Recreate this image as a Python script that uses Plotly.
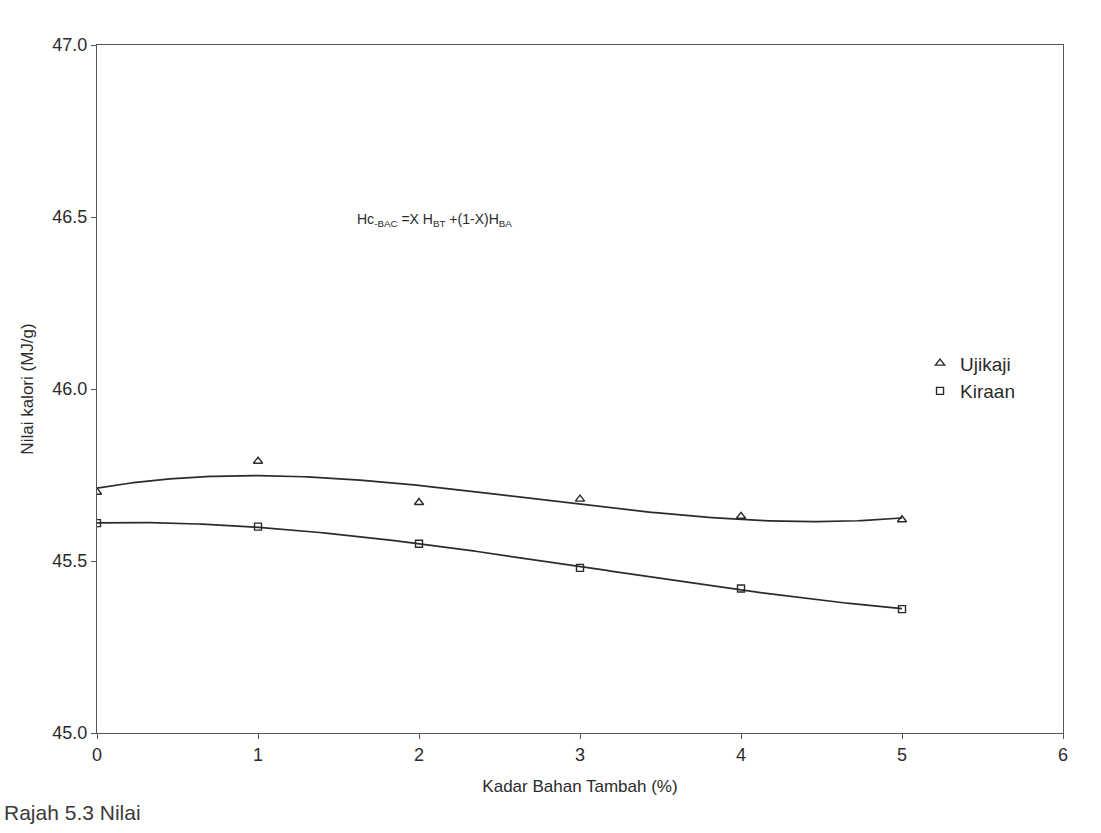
import numpy as np
import plotly.graph_objects as go

# Data
kadar = [0, 1, 2, 3, 4, 5]
ujikaji = [45.70, 45.79, 45.67, 45.68, 45.63, 45.62]
kiraan = [45.61, 45.60, 45.55, 45.48, 45.42, 45.36]

x_ticks = [0, 1, 2, 3, 4, 5, 6]
y_ticks = [45.0, 45.5, 46.0, 46.5, 47.0]

FONT = "Liberation Sans, Arial, sans-serif"
INK = "#2b2b2b"

# polynomial (order 3) trendlines, like the spreadsheet fit
xs = np.linspace(min(kadar), max(kadar), 200)
fit_u = np.polyval(np.polyfit(kadar, ujikaji, 3), xs)
fit_k = np.polyval(np.polyfit(kadar, kiraan, 3), xs)

fig = go.Figure()
fig.add_trace(go.Scatter(x=xs, y=fit_u, mode="lines", line=dict(color=INK, width=1.7),
                         showlegend=False, hoverinfo="skip"))
fig.add_trace(go.Scatter(x=xs, y=fit_k, mode="lines", line=dict(color=INK, width=1.7),
                         showlegend=False, hoverinfo="skip"))
fig.add_trace(go.Scatter(x=kadar, y=ujikaji, mode="markers", name="Ujikaji",
                         marker=dict(symbol="triangle-up-open", size=8, color=INK,
                                     line=dict(width=1.4, color=INK))))
fig.add_trace(go.Scatter(x=kadar, y=kiraan, mode="markers", name="Kiraan",
                         marker=dict(symbol="square-open", size=7, color=INK,
                                     line=dict(width=1.4, color=INK))))

fig.add_annotation(x=1.6, y=46.49, xref="x", yref="y", xanchor="left", yanchor="middle",
                   showarrow=False,
                   text="Hc<sub>-BAC</sub> =X H<sub>BT</sub> +(1-X)H<sub>BA</sub>",
                   font=dict(family=FONT, size=14, color=INK))

fig.add_annotation(x=-0.098, y=-0.096, xref="paper", yref="paper", xanchor="left",
                   yanchor="top", showarrow=False, text="Rajah 5.3 Nilai",
                   font=dict(family=FONT, size=21, color="#3a3a3a"))

fig.update_layout(
    width=1101, height=833,
    margin=dict(l=97, r=38, t=45, b=100),
    paper_bgcolor="white", plot_bgcolor="white",
    font=dict(family=FONT, color=INK),
    legend=dict(x=0.852, y=0.565, xanchor="left", yanchor="top",
                font=dict(family=FONT, size=19, color=INK),
                bgcolor="rgba(255,255,255,0)", itemwidth=30, tracegroupgap=0),
)
fig.update_xaxes(range=[0, 6], tickvals=x_ticks, ticktext=[str(v) for v in x_ticks],
                 showgrid=False, zeroline=False, showline=True, linecolor="#555",
                 linewidth=1, mirror=True, ticks="outside", ticklen=5, tickcolor="#555",
                 tickfont=dict(family=FONT, size=18, color=INK),
                 title=dict(text="Kadar Bahan Tambah (%)", standoff=16,
                            font=dict(family=FONT, size=17, color=INK)))
fig.update_yaxes(range=[45, 47], tickvals=y_ticks, ticktext=[f"{v:.1f}" for v in y_ticks],
                 showgrid=False, zeroline=False, showline=True, linecolor="#555",
                 linewidth=1, mirror=True, ticks="outside", ticklen=5, tickcolor="#555",
                 tickfont=dict(family=FONT, size=18, color=INK),
                 title=dict(text="Nilai kalori (MJ/g)", standoff=14,
                            font=dict(family=FONT, size=17, color=INK)))

fig.write_html("out.html")
